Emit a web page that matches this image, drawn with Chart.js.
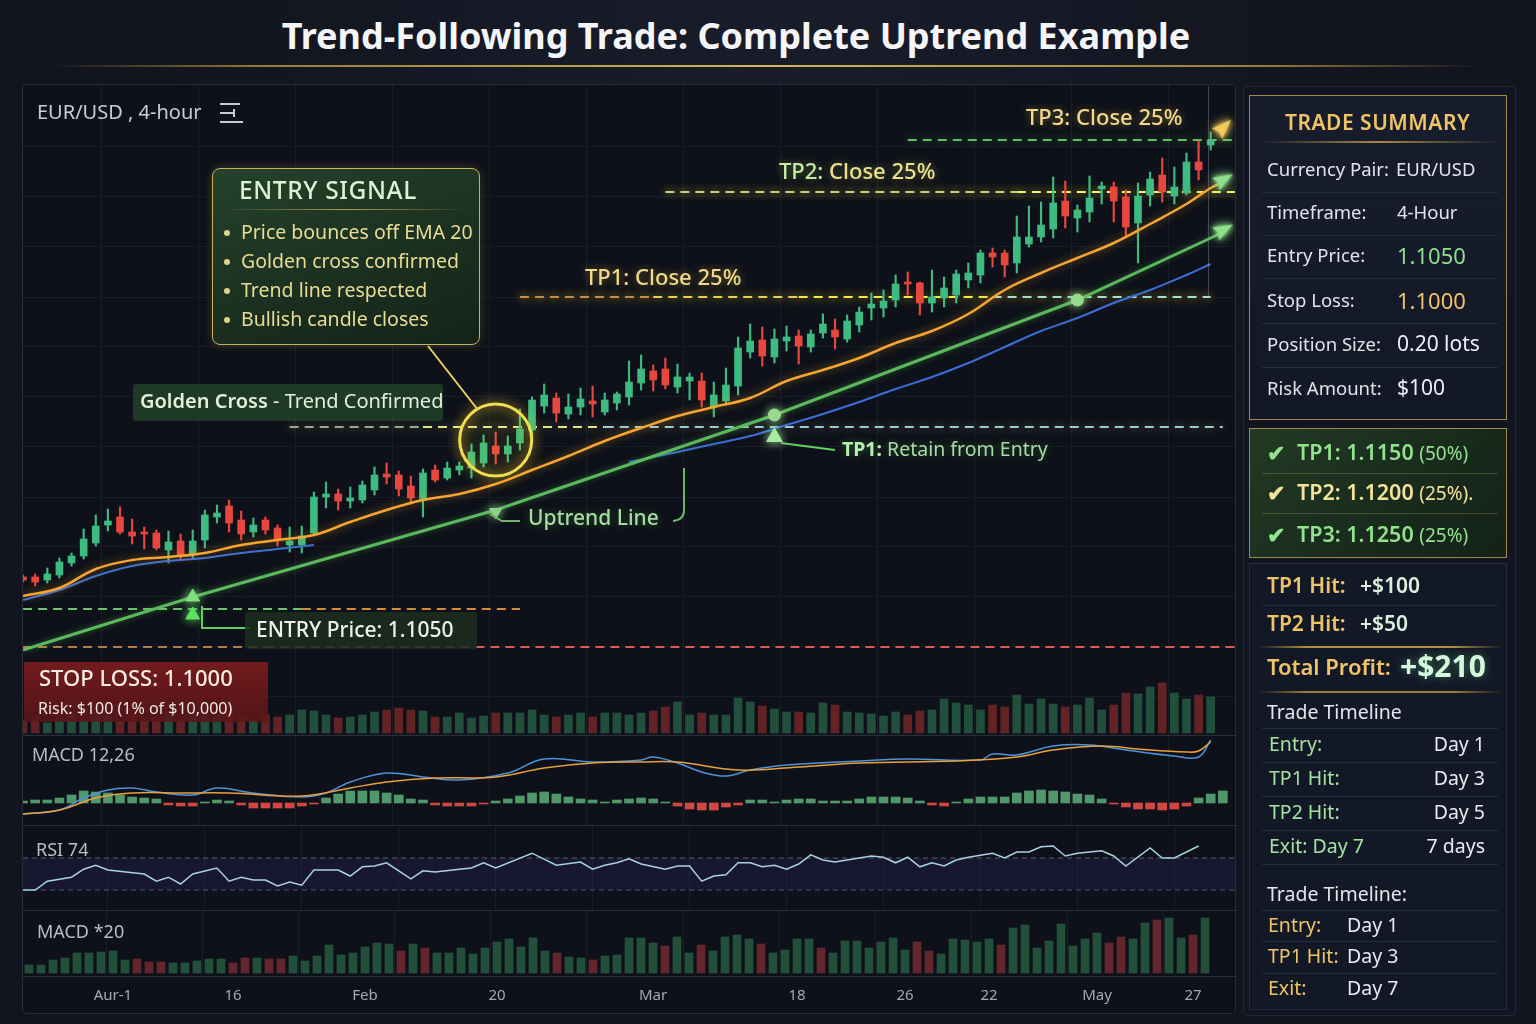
<!DOCTYPE html>
<html>
<head>
<meta charset="utf-8">
<title>Trend-Following Trade</title>
<script src="https://cdn.jsdelivr.net/npm/chart.js@4.4.1/dist/chart.umd.min.js"></script>
<style>
  html, body { margin: 0; padding: 0; background: #12151f; }
  #root { position: relative; width: 1536px; height: 1024px; overflow: hidden;
          font-family: "Noto Sans", "Open Sans", sans-serif;
          background: radial-gradient(ellipse at 50% 0%, #191d2b 0%, #12151f 55%); }
  .abs { position: absolute; }
  .t { position: absolute; white-space: nowrap; line-height: 1; }
  canvas { position: absolute; }
</style>
</head>
<body>
<div id="root">
  <div class="t" style="left:0;width:1472px;top:18px;text-align:center;font-size:36px;font-weight:700;color:#f5f5f7">Trend-Following Trade: Complete Uptrend Example</div>
  <div class="abs" style="left:50px;top:65px;width:1430px;height:2px;background:linear-gradient(90deg,rgba(0,0,0,0),#9c7c34 15%,#d6b456 50%,#9c7c34 85%,rgba(0,0,0,0))"></div>

  <!-- chart panel -->
  <div class="abs" style="left:22px;top:84px;width:1214px;height:930px;background:#0e1119;border-radius:4px"></div>
  <div class="abs" style="left:22px;top:84px;width:1214px;height:930px;overflow:hidden">
    <canvas id="cPrice" width="1224" height="651" style="left:-5px;top:0"></canvas>
    <canvas id="cMacd" width="1224" height="90" style="left:-5px;top:651px"></canvas>
    <canvas id="cRsi" width="1224" height="85" style="left:-5px;top:741px"></canvas>
    <canvas id="cOsc" width="1224" height="104" style="left:-5px;top:826px"></canvas>
  </div>
  <div class="abs" style="left:22px;top:84px;width:1212px;height:928px;border:1px solid #272c39;border-radius:4px"></div>
  <div class="abs" style="left:23px;top:735px;width:1212px;height:1px;background:#2b303d"></div>
  <div class="abs" style="left:23px;top:825px;width:1212px;height:1px;background:#2b303d"></div>
  <div class="abs" style="left:23px;top:910px;width:1212px;height:1px;background:#2b303d"></div>
  <div class="abs" style="left:23px;top:976px;width:1212px;height:1px;background:#2b303d"></div>
  <div class="abs" style="left:1208px;top:86px;width:1px;height:212px;background:rgba(160,165,180,0.35)"></div>

  <!-- side frame -->
  <div class="abs" style="left:1243px;top:86px;width:271px;height:928px;border:1px solid #232838;border-radius:4px;background:#111522"></div>

  <svg class="abs" style="left:0;top:0" width="1536" height="1024">
    <line x1="428" y1="346" x2="478" y2="410" stroke="#e9d35c" stroke-width="2"/>
    <path d="M490 514 L502 521 L520 521" stroke="#6db56a" stroke-width="2" fill="none"/>
    <path d="M684 468 L684 510 Q684 520 673 521" stroke="#6db56a" stroke-width="2" fill="none"/>
    <path d="M202 606 L202 628 L250 628" stroke="#5fd060" stroke-width="2" fill="none"/>
    <path d="M781 443 L835 450" stroke="#5fd060" stroke-width="2" fill="none"/>
    <g stroke="#c9ccd6" stroke-width="2">
      <line x1="220" y1="104" x2="240" y2="104"/><line x1="220" y1="113" x2="234" y2="113"/>
      <line x1="220" y1="122" x2="243" y2="122"/><line x1="234" y1="109" x2="234" y2="117"/>
    </g>
  </svg>
</div>

<script>
// ---- price data (candles, 4-hour) ----
const openP = [1.10350,1.10350,1.10335,1.10360,1.10420,1.10455,1.10520,1.10610,1.10650,1.10575,
  1.10575,1.10570,1.10485,1.10530,1.10465,1.10535,1.10650,1.10705,1.10635,1.10575,
  1.10635,1.10595,1.10510,1.10510,1.10570,1.10750,1.10765,1.10730,1.10735,1.10785,
  1.10865,1.10860,1.10805,1.10740,1.10885,1.10845,1.10885,1.10895,1.10920,1.11005,
  1.10965,1.11020,1.11085,1.11205,1.11245,1.11165,1.11200,1.11230,1.11175,1.11220,
  1.11250,1.11320,1.11380,1.11390,1.11300,1.11330,1.11330,1.11200,1.11230,1.11305,
  1.11475,1.11535,1.11450,1.11530,1.11555,1.11500,1.11570,1.11585,1.11540,1.11610,
  1.11695,1.11695,1.11735,1.11825,1.11820,1.11720,1.11745,1.11760,1.11835,1.11860,
  1.11970,1.11970,1.11920,1.12015,1.12050,1.12090,1.12230,1.12145,1.12175,1.12290,
  1.12300,1.12250,1.12120,1.12260,1.12360,1.12255,1.12270,1.12425,1.12510];
const highP = [1.10360,1.10365,1.10395,1.10445,1.10470,1.10590,1.10660,1.10690,1.10700,1.10640,
  1.10600,1.10585,1.10580,1.10565,1.10585,1.10685,1.10710,1.10735,1.10680,1.10645,
  1.10650,1.10610,1.10600,1.10605,1.10775,1.10825,1.10790,1.10800,1.10830,1.10900,
  1.10920,1.10880,1.10855,1.10890,1.10910,1.10925,1.10925,1.11015,1.11060,1.11075,
  1.11055,1.11190,1.11250,1.11315,1.11270,1.11265,1.11295,1.11305,1.11270,1.11275,
  1.11430,1.11460,1.11410,1.11445,1.11415,1.11370,1.11370,1.11325,1.11395,1.11550,
  1.11615,1.11600,1.11590,1.11605,1.11585,1.11585,1.11665,1.11640,1.11660,1.11700,
  1.11770,1.11785,1.11860,1.11875,1.11825,1.11885,1.11850,1.11885,1.11920,1.11985,
  1.11995,1.11985,1.12155,1.12205,1.12225,1.12350,1.12330,1.12210,1.12355,1.12325,
  1.12325,1.12285,1.12320,1.12375,1.12445,1.12400,1.12470,1.12530,1.12575];
const lowP = [1.10325,1.10305,1.10320,1.10345,1.10405,1.10440,1.10505,1.10580,1.10565,1.10515,
  1.10490,1.10485,1.10420,1.10435,1.10445,1.10495,1.10620,1.10575,1.10535,1.10550,
  1.10565,1.10505,1.10475,1.10470,1.10560,1.10695,1.10685,1.10695,1.10720,1.10760,
  1.10815,1.10755,1.10715,1.10650,1.10825,1.10835,1.10860,1.10845,1.10900,1.10915,
  1.10925,1.10985,1.11025,1.11170,1.11125,1.11140,1.11160,1.11150,1.11160,1.11185,
  1.11210,1.11285,1.11280,1.11290,1.11270,1.11235,1.11200,1.11150,1.11210,1.11260,
  1.11445,1.11405,1.11420,1.11480,1.11415,1.11475,1.11545,1.11490,1.11525,1.11575,
  1.11635,1.11650,1.11700,1.11760,1.11660,1.11675,1.11700,1.11720,1.11795,1.11820,
  1.11900,1.11850,1.11870,1.12000,1.12025,1.12045,1.12095,1.12075,1.12125,1.12215,
  1.12125,1.12055,1.11920,1.12205,1.12225,1.12215,1.12260,1.12335,1.12485];
const closeP = [1.10335,1.10325,1.10365,1.10425,1.10455,1.10540,1.10605,1.10630,1.10575,1.10555,
  1.10565,1.10495,1.10525,1.10460,1.10530,1.10660,1.10670,1.10620,1.10565,1.10610,
  1.10585,1.10540,1.10530,1.10555,1.10750,1.10765,1.10730,1.10745,1.10810,1.10860,
  1.10850,1.10790,1.10745,1.10870,1.10835,1.10895,1.10905,1.10975,1.11020,1.10965,
  1.11005,1.11090,1.11235,1.11260,1.11170,1.11200,1.11240,1.11215,1.11235,1.11265,
  1.11325,1.11390,1.11335,1.11310,1.11350,1.11350,1.11235,1.11260,1.11310,1.11495,
  1.11530,1.11455,1.11540,1.11550,1.11505,1.11565,1.11615,1.11550,1.11630,1.11675,
  1.11715,1.11730,1.11815,1.11815,1.11720,1.11750,1.11795,1.11865,1.11870,1.11970,
  1.11950,1.11910,1.12050,1.12050,1.12110,1.12220,1.12155,1.12185,1.12245,1.12305,
  1.12230,1.12100,1.12255,1.12340,1.12275,1.12300,1.12425,1.12385,1.12535];
const volume = [12,16,10,14,18,13,20,16,12,18,14,16,20,15,17,22,18,24,16,14,18,
  16,18,23,22,18,15,16,18,21,23,25,23,22,16,16,20,15,17,20,20,20,23,18,16,18,20,16,20,20,18,20,22,26,31,18,20,
  18,18,35,31,27,24,21,21,20,30,28,21,20,19,17,21,18,22,23,34,30,28,23,28,26,38,29,34,29,26,28,35,23,28,40,39,46,50,40,34,38,36];

// moving averages and trend line: read at sample candles
const ema20Idx = [0,3,6,9,12,15,18,21,24,27,30,33,36,39,42,45,48,51,54,57,60,63,66,69,72,75,78,81,84,87,90,93,96,98,99];
const ema20Val = [1.10255,1.10295,1.10390,1.10435,1.10450,1.10470,1.10510,1.10535,1.10560,1.10625,1.10685,1.10735,1.10765,1.10815,1.10885,1.10955,1.11030,1.11095,1.11155,1.11200,1.11245,1.11330,1.11385,1.11445,1.11520,1.11580,1.11665,1.11785,1.11870,1.11945,1.12020,1.12115,1.12215,1.12295,1.12325];
const ema50aIdx = [0,3,6,9,12,15,18,21,24];
const ema50aVal = [1.10235,1.10285,1.10355,1.10405,1.10430,1.10445,1.10470,1.10490,1.10510];
const ema50bIdx = [50,54,57,60,63,66,69,72,75,78,81,84,87,90,93,96,98];
const ema50bVal = [1.10925,1.10975,1.11015,1.11055,1.11110,1.11165,1.11225,1.11290,1.11350,1.11420,1.11500,1.11580,1.11645,1.11720,1.11785,1.11860,1.11915];
const trendIdx = [0,14,39,62,87,98,99];
const trendVal = [1.09985,1.10250,1.10685,1.11160,1.11735,1.12045,1.12075];

// horizontal levels: stop, entry, golden cross, TP1, TP2, TP3
const levelVal = [1.10000,1.10190,1.11100,1.11750,1.12275,1.12535];
const levelFrom = [0,0,22,41,53,73];
const levelTo = [100,41,99,98,100,100];

// markers
const entryMarkVal = [1.10250,1.10160];   // at candle 14
const dotIdx = [62,87], dotVal = [1.11160,1.11735];
const retainIdx = 62, retainVal = 1.11050;
const uptrendIdx = 39, uptrendVal = 1.10675;
const crossIdx = 39, crossVal = 1.11035;
const arrowIdx = 99, tp3ArrowVal = 1.12595, emaArrowVal = 1.12335, trendArrowVal = 1.12085;

// MACD 12,26
const macdHist = [2,3,3,5,8,12,11,10,8,6, 5,4,-2,-3,-3,1,3,2,-2,-5, -5,-5,-5,-3,-1,5,9,12,12,12,
  10,8,4,3,-2,-3,-3,-3,-1,2, 4,7,10,11,9,6,4,3,1,3, 4,5,4,1,-3,-6,-7,-7,-4,-2,
  3,3,1,3,4,4,2,2,2,4, 6,6,6,5,2,-2,-3,1,4,6, 6,6,10,12,13,12,11,9,8,4, -1,-4,-6,-6,-7,-6,-3,5,9,12];
const macdIdx = [0,3,5,7,9,11,14,16,19,23,25,27,30,33,36,40,43,47,51,52,54,56,58,60,63,69,73,79,80,82,85,88,91,95,97,98];
const macdVal = [-11,-7,5,13,15,11,8,15,10,6,10,21,30,26,23,30,44,41,43,46,40,31,27,33,38,42,44,43,49,48,57,58,53,47,46,63];
const sigIdx = [0,3,6,9,13,17,23,27,30,34,39,43,47,51,54,59,64,69,77,82,85,89,92,96,97,98];
const sigVal = [-11,-7,5,10,10,10,7,15,21,25,26,35,40,41,41,33,36,40,42,46,53,57,54,51,52,61];

// RSI
const rsiIdx = [0,1,2,4,5,6,7,10,11,12,13,14,16,17,18,19,20,21,22,23,24,26,27,28,29,30,32,33,34,36,37,38,39,42,44,46,47,48,49,50,51,53,54,55,56,57,58,59,60,61,62,63,64,65,66,67,69,70,71,72,73,74,75,76,77,78,80,81,82,83,84,85,86,87,89,90,91,93,94,95,96,97];
const rsiVal = [30,30,41,46,56,61,55,50,41,46,37.5,50,57.5,41,46,42.5,42.5,35,40,36,55,55,47.5,59,60,64,44,54,52.5,56,57.5,64,57.5,76,61,65,56,61,64,69,62.5,56,60,60,41,47.5,49,64,64,59,61,56,62.5,74,67.5,65,70,72.5,71,64,71,59,64,60,67.5,71,76,70,77.5,77.5,84,85,72.5,76,79,72.5,60,82.5,70,70,77.5,85];
const rsiBands = [70,30];

// MACD *20 histogram
const oscHist = [8,8,13,15,20,20,21,22,13,14,11,11,10,10,12,14,14,10,15,15,14,14,17,12,17,28,18,20,26,30,29,22,29,25,20,20,25,19,25,31,34,26,35,22,20,16,15,13,17,18,35,35,
  30,27,36,20,28,22,36,38,34,29,20,23,34,34,25,20,32,32,25,31,35,23,31,22,19,34,33,31,34,28,45,48,25,32,49,27,34,40,30,36,34,50,53,55,35,38,55];
const oscDown = [9,10,11,17,18,20,21,31,33,44,47,53,56,61,66,74,75,81,90,91,94,97];

// date axis
const tickIdx = [7,17,28,39,52,64,73,80,89,97];
const tickText = ['Aur-1','16','Feb','20','Mar','18','26','22','May','27'];

// ---- helpers ----
const N = 101;
const labels = Array.from({length: N}, (_, i) => i);
function sparse(idx, vals) { const a = new Array(N).fill(null); idx.forEach((k, j) => { a[k] = vals[j]; }); return a; }
function level(v, from, to) { const a = new Array(N).fill(null); for (let i = from; i <= to; i++) a[i] = v; return a; }
const gridX = ctx => (ctx.index % 8 === 7 ? '#1a1e2a' : 'rgba(0,0,0,0)');

// arrowhead point style (tip to the right, rotated by the point's rotation)
function arrowHead(color, size) {
  const c = document.createElement('canvas');
  c.width = c.height = size;
  const g = c.getContext('2d');
  g.translate(size / 2, size / 2);
  g.beginPath();
  g.moveTo(size * 0.48, 0);
  g.lineTo(-size * 0.34, -size * 0.3);
  g.lineTo(-size * 0.22, 0);
  g.lineTo(-size * 0.34, size * 0.3);
  g.closePath();
  g.fillStyle = color;
  g.shadowColor = color;
  g.shadowBlur = 4;
  g.fill();
  return c;
}

Chart.defaults.font.family = '"Noto Sans", sans-serif';
Chart.defaults.animation = false;

const glowPlugin = {
  id: 'glow',
  beforeDatasetDraw(chart, args) {
    const ds = chart.data.datasets[args.index];
    if (!ds.glow) return;
    chart.ctx.save();
    chart.ctx.shadowColor = ds.glow;
    chart.ctx.shadowBlur = ds.glowBlur || 10;
  },
  afterDatasetDraw(chart, args) {
    if (chart.data.datasets[args.index].glow) chart.ctx.restore();
  }
};

const hiddenX = { offset: true, grid: { color: gridX, drawTicks: false }, border: { display: false },
  ticks: { display: false }, afterFit(s) { s.height = 0; } };
function hiddenY(min, max, step, gridColor) {
  return { min, max, grid: { color: gridColor || 'rgba(0,0,0,0)', drawTicks: false }, border: { display: false },
    ticks: { display: false, stepSize: step }, afterFit(s) { s.width = 0; } };
}
const baseOpts = { responsive: false, animation: false, layout: { padding: 0, autoPadding: false },
  plugins: { legend: { display: false }, tooltip: { enabled: false } } };

// ---- price chart ----
const isUp = closeP.map((c, i) => c >= openP[i]);
const UP = '#3dbb80', DN = '#e8473f';
const levelColors = [
  i => (i < 20 ? 'rgba(214,140,80,0.85)' : '#e25858'),
  i => (i < 23 ? '#6cc46c' : '#d98b3c'),
  i => (i < 33 ? '#8fae8f' : i < 48 ? '#e6e58e' : '#9ccbd6'),
  i => (i < 52 ? '#c98a48' : i < 64 ? '#e8cf58' : i < 80 ? '#f4e84a' : '#a6ddd0'),
  i => (i < 82 ? '#b8d67a' : '#f6f070'),
  i => '#5cc05c'
];
const levelGlow = [null, null, 'rgba(220,230,150,0.5)', '#f0d020', '#f0d820', 'rgba(90,200,90,0.6)'];
const levelSets = levelVal.map((v, k) => ({
  type: 'line', data: level(v, levelFrom[k], levelTo[k]), borderWidth: 2, borderDash: [9, 6],
  pointRadius: 0, order: 10, borderColor: levelColors[k](0),
  segment: { borderColor: ctx => levelColors[k](ctx.p0DataIndex) },
  glow: levelGlow[k], glowBlur: 8
}));

const one = (i, v) => sparse([i], [v]);
const marker = (data, style, r, color, rot, extra) => Object.assign({
  type: 'line', data, showLine: false, pointStyle: style, pointRadius: r, rotation: rot || 0,
  pointBackgroundColor: color, pointBorderColor: color, order: 0, glow: color, glowBlur: 10
}, extra || {});
const greenArrow = arrowHead('#8fe08a', 24);
const goldArrow = arrowHead('#f2cc5a', 24);
const lineSet = (data, color, width, tension, order, extra) => Object.assign({
  type: 'line', data, borderColor: color, borderWidth: width, pointRadius: 0, spanGaps: true, tension, order
}, extra || {});

new Chart(document.getElementById('cPrice'), {
  type: 'bar',
  data: {
    labels,
    datasets: [
      { type: 'bar', yAxisID: 'yVol', data: volume, grouped: false, barThickness: 8, order: 20,
        backgroundColor: volume.map((v, i) => (isUp[i] ? 'rgba(40,100,72,0.75)' : 'rgba(120,40,40,0.8)')) },
      ...levelSets,
      { type: 'bar', data: lowP.map((l, i) => [l, highP[i]]), grouped: false, barThickness: 1.5, order: 6,
        backgroundColor: isUp.map(u => (u ? UP : DN)) },
      { type: 'bar', data: openP.map((o, i) => [o, closeP[i]]), grouped: false, barThickness: 7, minBarLength: 2, order: 5,
        backgroundColor: isUp.map(u => (u ? UP : DN)) },
      lineSet(sparse(ema50aIdx, ema50aVal), '#3a6fd8', 2, 0.4, 4),
      lineSet(sparse(ema50bIdx, ema50bVal), '#3a6fd8', 2, 0.4, 4),
      lineSet(sparse(trendIdx, trendVal), '#5cb85c', 3, 0, 3, { glow: 'rgba(92,184,92,0.45)', glowBlur: 6 }),
      lineSet(sparse(ema20Idx, ema20Val), '#f5a530', 2.5, 0.4, 2, { glow: 'rgba(245,165,48,0.55)', glowBlur: 8 }),
      marker(one(14, entryMarkVal[0]), 'triangle', 8, '#7fe07a'),
      marker(one(14, entryMarkVal[1]), 'triangle', 8, '#5fe060'),
      marker(one(retainIdx, retainVal), 'triangle', 9, '#a8eca0'),
      marker(one(uptrendIdx, uptrendVal), 'triangle', 7, '#8fd08a', 180),
      marker(sparse(dotIdx, dotVal), 'circle', 6, '#9ad890'),
      marker(one(arrowIdx, emaArrowVal), greenArrow, 10, '#8fe08a', -30),
      marker(one(arrowIdx, trendArrowVal), greenArrow, 10, '#8fe08a', -28),
      marker(one(arrowIdx, tp3ArrowVal), goldArrow, 10, '#f2cc5a', -45),
      marker(one(crossIdx, crossVal), 'circle', 36, 'rgba(0,0,0,0)', 0,
        { pointBorderColor: '#f2dc50', pointBorderWidth: 3, pointBackgroundColor: 'rgba(242,220,80,0.04)', glow: '#f2c830', glowBlur: 12 })
    ]
  },
  options: Object.assign({}, baseOpts, {
    scales: {
      x: hiddenX,
      y: hiddenY(1.0956, 1.12815, 0.0025, '#181c28'),
      yVol: { display: false, position: 'right', min: -2, max: 649 }
    }
  }),
  plugins: [glowPlugin]
});

// ---- MACD 12,26 ----
new Chart(document.getElementById('cMacd'), {
  type: 'bar',
  data: {
    labels,
    datasets: [
      lineSet(sparse(sigIdx, sigVal), '#e9a13c', 1.5, 0.4, 0),
      lineSet(sparse(macdIdx, macdVal), '#4d93dc', 1.5, 0.4, 1),
      { data: macdHist, barThickness: 9, order: 2,
        backgroundColor: macdHist.map(v => (v >= 0 ? 'rgba(98,186,128,0.8)' : 'rgba(232,78,68,0.9)')) }
    ]
  },
  options: Object.assign({}, baseOpts, { scales: { x: hiddenX, y: hiddenY(-22, 68, 100) } })
});

// ---- RSI ----
new Chart(document.getElementById('cRsi'), {
  type: 'line',
  data: {
    labels,
    datasets: [
      lineSet(sparse(rsiIdx, rsiVal), '#a8d2e2', 1.5, 0, 0),
      { data: level(rsiBands[0], 0, 100), borderColor: '#596074', borderWidth: 1, borderDash: [5, 4], pointRadius: 0,
        fill: '+1', backgroundColor: 'rgba(38,34,80,0.42)' },
      { data: level(rsiBands[1], 0, 100), borderColor: '#596074', borderWidth: 1, borderDash: [5, 4], pointRadius: 0 }
    ]
  },
  options: Object.assign({}, baseOpts, { scales: { x: hiddenX, y: hiddenY(5, 111.25, 200) } })
});

// ---- MACD *20 histogram + date axis ----
const tickMap = {};
tickIdx.forEach((k, j) => { tickMap[k] = tickText[j]; });
new Chart(document.getElementById('cOsc'), {
  type: 'bar',
  data: {
    labels,
    datasets: [
      { data: oscHist, barThickness: 8,
        backgroundColor: oscHist.map((v, i) => (oscDown.includes(i) ? 'rgba(104,40,46,0.95)' : 'rgba(36,84,60,0.95)')) }
    ]
  },
  options: Object.assign({}, baseOpts, {
    scales: {
      x: { offset: true, grid: { color: gridX, drawTicks: false }, border: { display: false },
        ticks: { autoSkip: false, maxRotation: 0, padding: 12, color: '#a3a8b6', font: { size: 15 },
          callback: (v, i) => tickMap[i] || '' },
        afterFit(s) { s.height = 39; } },
      y: hiddenY(-2, 63, 100)
    }
  })
});

// ---- text overlays ----
const root = document.getElementById('root');
function txt(html, x, cy, size, color, weight, extra) {
  const d = document.createElement('div');
  d.className = 't';
  d.innerHTML = html;
  d.style.cssText += 'left:' + x + 'px;top:' + (cy - size * 0.55).toFixed(1) + 'px;font-size:' + size + 'px;color:' + color +
    ';font-weight:' + (weight || 400) + ';' + (extra || '');
  root.appendChild(d);
  return d;
}
function txtR(html, xr, cy, size, color, weight, extra) {
  const d = txt(html, 0, cy, size, color, weight, extra);
  d.style.left = 'auto';
  d.style.right = (1536 - xr) + 'px';
  return d;
}
function box(x, y, w, h, css) {
  const d = document.createElement('div');
  d.className = 'abs';
  d.style.cssText += 'left:' + x + 'px;top:' + y + 'px;width:' + w + 'px;height:' + h + 'px;box-sizing:border-box;' + (css || '');
  root.appendChild(d);
  return d;
}
const glowTxt = c => 'text-shadow:0 0 8px ' + c + ';';

// chart labels
txt('EUR/USD , 4-hour', 37, 113, 20, '#c9ccd6');
txt('MACD 12,26', 32, 755, 18, '#b9bdc9');
txt('RSI 74', 36, 850, 18, '#b9bdc9');
txt('MACD *20', 37, 932, 18, '#b9bdc9');

// entry signal box
box(212, 168, 268, 177, 'border:1.5px solid #c9b25e;border-radius:8px;background:linear-gradient(160deg,#24422b 0%,#1a2f20 60%,#142318 100%);box-shadow:0 0 10px rgba(200,180,90,0.25)');
box(222, 209, 248, 1, 'background:linear-gradient(90deg,rgba(0,0,0,0),#b89a48,rgba(0,0,0,0))');
txt('ENTRY SIGNAL', 239, 191, 24.5, '#d9f2d4', 500, 'letter-spacing:0.6px');
['Price bounces off EMA 20', 'Golden cross confirmed', 'Trend line respected', 'Bullish candle closes'].forEach((s, k) => {
  const cy = 233 + k * 29;
  box(224, cy - 3, 6, 6, 'border-radius:3px;background:#e0d48a');
  txt(s, 241, cy, 19.5, '#eadc92');
});

// level annotations
box(133, 384, 310, 37, 'background:rgba(34,70,42,0.78);border-radius:3px');
txt('<span style="font-weight:600">Golden Cross</span> - Trend Confirmed', 140, 402, 20, '#e2f0da');
txt('TP1: Close 25%', 585, 277, 22, '#f2d98a', 500, glowTxt('rgba(240,200,80,0.5)'));
txt('<span style="color:#c4eca4">TP2:</span> Close 25%', 779, 171, 22, '#efe08e', 500, glowTxt('rgba(200,230,100,0.45)'));
txt('TP3: Close 25%', 1026, 117, 22, '#f2d98a', 500, glowTxt('rgba(240,200,80,0.45)'));
txt('<span style="font-weight:700;color:#b6f0b0">TP1:</span> Retain from Entry', 842, 450, 19.5, '#a9dca4', 400, glowTxt('rgba(90,200,90,0.4)'));
txt('Uptrend Line', 528, 519, 21, '#a7dca0', 500, glowTxt('rgba(90,200,90,0.4)'));
box(245, 612, 232, 37, 'background:rgba(28,46,32,0.85);border-radius:2px');
txt('ENTRY Price: 1.1050', 256, 630, 21, '#eef2e6', 500);
box(24, 662, 244, 60, 'background:linear-gradient(180deg,rgba(124,28,28,0.92),rgba(90,22,24,0.88));border-radius:2px');
txt('STOP LOSS: 1.1000', 39, 678, 22, '#f6ece4', 500);
txt('Risk: $100 (1% of $10,000)', 38, 709, 16, '#eeeae6');

// ---- sidebar ----
const GOLD = '#f0c466', LBL = '#e2e4ea', SEP = '#262d3e';
box(1249, 95, 258, 325, 'border:1.5px solid #a08a4a;background:linear-gradient(180deg,#181d2d,#131827)');
txt('TRADE SUMMARY', 1285, 123, 21, GOLD, 600, 'letter-spacing:0.5px');
box(1260, 141, 238, 2, 'background:linear-gradient(90deg,rgba(0,0,0,0),#a88a40,rgba(0,0,0,0))');
const sumLabel = ['Currency Pair:', 'Timeframe:', 'Entry Price:', 'Stop Loss:', 'Position Size:', 'Risk Amount:'];
const sumValue = ['EUR/USD', '4-Hour', '1.1050', '1.1000', '0.20 lots', '$100'];
const sumColor = [LBL, LBL, '#8ee08c', GOLD, '#eef0f6', '#eef0f6'];
const sumSize = [18.5, 18.5, 22, 22, 21, 21];
const sumY = [170, 213, 256, 301, 345, 389];
sumLabel.forEach((s, k) => {
  txt(s, 1267, sumY[k], 18.5, LBL);
  txt(sumValue[k], k === 0 ? 1396 : 1397, sumY[k], sumSize[k], sumColor[k]);
  if (k < 5) box(1262, sumY[k] + 22, 236, 1, 'background:' + SEP);
});

box(1249, 428, 258, 130, 'border:1.5px solid #a08a4a;background:linear-gradient(135deg,#223a24,#17281b 70%,#14221a)');
const tpText = ['TP1: 1.1150', 'TP2: 1.1200', 'TP3: 1.1250'];
const tpPct = ['(50%)', '(25%).', '(25%)'];
const tpCol = ['#93e28e', '#f2e39a', '#93e28e'];
[453, 493, 535].forEach((cy, k) => {
  txt('&#10004;', 1267, cy, 22, tpCol[k], 700);
  txt(tpText[k] + ' <span style="font-weight:400;font-size:19px">' + tpPct[k] + '</span>', 1297, cy, 21.5, tpCol[k], 600);
  if (k < 2) box(1262, cy + 20, 236, 1, 'background:rgba(150,140,80,0.35)');
});

box(1249, 563, 258, 447, 'border:1px solid #252c3c;background:#131827');
txt('TP1 Hit:', 1267, 586, 21, GOLD, 600);
txt('+$100', 1360, 586, 21, '#d8f0dc', 600);
box(1262, 605, 236, 1, 'background:' + SEP);
txt('TP2 Hit:', 1267, 624, 21, GOLD, 600);
txt('+$50', 1360, 624, 21, '#d8f0dc', 600);
box(1258, 646, 244, 2, 'background:linear-gradient(90deg,rgba(0,0,0,0),#b0903e 20%,#b0903e 80%,rgba(0,0,0,0))');
txt('Total Profit:', 1267, 667, 22, GOLD, 600);
txt('+$210', 1400, 667, 30, '#d4f8dc', 700, glowTxt('rgba(120,230,150,0.45)'));
box(1258, 691, 244, 2, 'background:linear-gradient(90deg,rgba(0,0,0,0),#9a7e38 20%,#9a7e38 80%,rgba(0,0,0,0))');
txt('Trade Timeline', 1267, 713, 19.5, '#e4e6ec');
const tlLabel = ['Entry:', 'TP1 Hit:', 'TP2 Hit:', 'Exit: Day 7'];
const tlValue = ['Day 1', 'Day 3', 'Day 5', '7 days'];
[745, 779, 813, 847].forEach((cy, k) => {
  box(1262, cy - 17, 236, 1, 'background:' + SEP);
  txt(tlLabel[k], 1269, cy, 19.5, '#a4e2a0');
  txtR(tlValue[k], 1485, cy, 19.5, '#e8eaf0');
});
box(1262, 864, 236, 1, 'background:' + SEP);
txt('Trade Timeline:', 1267, 895, 19.5, '#e4e6ec');
const tl2Label = ['Entry:', 'TP1 Hit:', 'Exit:'];
const tl2Value = ['Day 1', 'Day 3', 'Day 7'];
[926, 957, 989].forEach((cy, k) => {
  box(1262, cy - 16, 236, 1, 'background:' + SEP);
  txt(tl2Label[k], 1268, cy, 19.5, '#eec468');
  txt(tl2Value[k], 1347, cy, 19.5, '#e8eaf0');
});
</script>
</body>
</html>
